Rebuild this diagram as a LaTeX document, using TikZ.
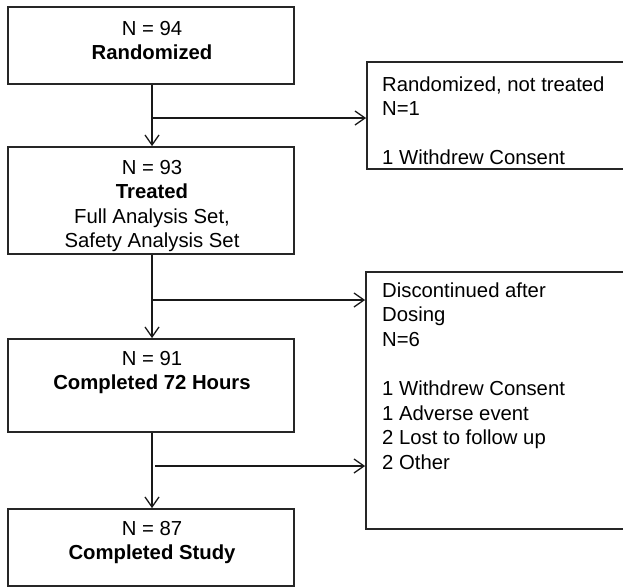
\documentclass[tikz,border=0pt]{standalone}
\usepackage{fontspec}
\setmainfont{Liberation Sans}
\usetikzlibrary{arrows.meta}
\begin{document}
\begin{tikzpicture}[x=1pt,y=-1pt,
  box/.style={draw=black!85, line width=1.8pt, rectangle, inner sep=0pt},
  txt/.style={anchor=base, inner sep=0pt, font=\fontsize{20.3}{24.6}\selectfont},
  ltxt/.style={anchor=base west, inner sep=0pt, font=\fontsize{20.3}{24.6}\selectfont},
  conn/.style={line width=1.3pt, draw=black!90},
  arr/.style={conn, -{Straight Barb[length=10pt,width=14pt,line width=1.3pt]}}]
\useasboundingbox (0,0) rectangle (623,587);
\clip (0,0) rectangle (623,587);
% left boxes
\node[box, minimum width=286pt, minimum height=77pt] (b1) at (151,45.5) {};
\node[box, minimum width=286pt, minimum height=107pt] (b2) at (151,200.5) {};
\node[box, minimum width=286pt, minimum height=93pt] (b3) at (151,385.5) {};
\node[box, minimum width=286pt, minimum height=77pt] (b4) at (151,547.5) {};
% right boxes (extend beyond right edge)
\node[box, minimum width=280pt, minimum height=107pt] (r1) at (507,115.5) {};
\node[box, minimum width=280pt, minimum height=257pt] (r2) at (506,400.5) {};
% texts
\node[txt] (t1a) at (152,35) {N = 94};
\node[txt] (t1b) at (152,59.6) {\bfseries Randomized};
\node[txt] (t2a) at (152,174) {N = 93};
\node[txt] (t2b) at (152,198.6) {\bfseries Treated};
\node[txt] (t2c) at (152,223.2) {Full Analysis Set,};
\node[txt] (t2d) at (152,247.8) {Safety Analysis Set};
\node[txt] (t3a) at (152,365) {N = 91};
\node[txt] (t3b) at (152,389.6) {\bfseries Completed 72 Hours};
\node[txt] (t4a) at (152,535) {N = 87};
\node[txt] (t4b) at (152,559.6) {\bfseries Completed Study};
\node[ltxt] (r1a) at (382,91) {Randomized, not treated};
\node[ltxt] (r1b) at (382,115.6) {N=1};
\node[ltxt] (r1c) at (382,164.8) {1 Withdrew Consent};
\node[ltxt] (r2a) at (382,297) {Discontinued after};
\node[ltxt] (r2b) at (382,321.6) {Dosing};
\node[ltxt] (r2c) at (382,346.2) {N=6};
\node[ltxt] (r2d) at (382,395.4) {1 Withdrew Consent};
\node[ltxt] (r2e) at (382,420) {1 Adverse event};
\node[ltxt] (r2f) at (382,444.6) {2 Lost to follow up};
\node[ltxt] (r2g) at (382,469.2) {2 Other};
% junctions
\coordinate (j1) at (152,118);
\coordinate (j2) at (152,300);
\coordinate (j3) at (155,466);
% connectors
\draw[arr] (b1.south -| j1) -- (b2.north -| j1);
\draw[arr] (b2.south -| j1) -- (b3.north -| j1);
\draw[arr] (b3.south -| j1) -- (b4.north -| j1);
\draw[arr] (j1) -- (j1 -| r1.west);
\draw[arr] (j2) -- (j2 -| r2.west);
\draw[arr] (j3) -- (j3 -| r2.west);
\end{tikzpicture}
\end{document}
